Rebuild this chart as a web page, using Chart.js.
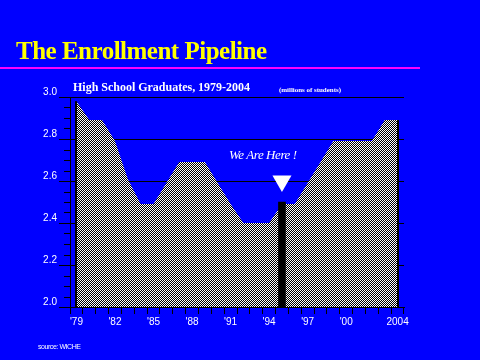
<!DOCTYPE html>
<html>
<head>
<meta charset="utf-8">
<script src="https://cdn.jsdelivr.net/npm/chart.js@4/dist/chart.umd.min.js"></script>
<style>
html,body{margin:0;padding:0;background:#0000ff;}
canvas{display:block;}
</style>
</head>
<body>
<canvas id="c" width="480" height="360"></canvas>
<script>
// ---- data ----
const years = [1979,1980,1981,1982,1983,1984,1985,1986,1987,1988,1989,1990,1991,1992,1993,1994,1995,1996,1997,1998,1999,2000,2001,2002,2003,2004];
const graduates = [2.98,2.89,2.89,2.79,2.61,2.49,2.49,2.59,2.69,2.69,2.69,2.59,2.49,2.40,2.40,2.40,2.49,2.49,2.59,2.69,2.79,2.79,2.79,2.79,2.89,2.89];
const xTickLabels = ["'79","","","'82","","","'85","","","'88","","","'91","","","'94","","","'97","","","'00","","","","2004"];
const hereYear = 1995;
const hereBarValue = 2.50;
const hereMarkerValue = 2.60;
const titleText = "The Enrollment Pipeline";
const subtitleText = "High School Graduates, 1979-2004";
const unitsText = "(millions of students)";
const noteText = "We Are Here !";
const sourceText = "source: WICHE";

// ---- pattern fill (1px checker) ----
const pc = document.createElement('canvas');
pc.width = 2; pc.height = 2;
const pctx = pc.getContext('2d');
pctx.fillStyle = '#000'; pctx.fillRect(0,0,2,2);
pctx.fillStyle = '#fff'; pctx.fillRect(0,0,1,1); pctx.fillRect(1,1,1,1);
const ctx0 = document.getElementById('c').getContext('2d');
const checker = ctx0.createPattern(pc, 'repeat');

const barData = years.map(y => y === hereYear ? hereBarValue : null);
const markerData = years.map(y => y === hereYear ? hereMarkerValue : null);

function isMajor(v){ return Math.abs(v*5 - Math.round(v*5)) < 1e-6; }

function fitText(ctx, text, x, y, target){
  ctx.letterSpacing = '0px';
  const w = ctx.measureText(text).width;
  const n = text.length;
  if (n > 1) ctx.letterSpacing = ((target - w) / (n - 1)).toFixed(2) + 'px';
  ctx.fillText(text, x, y);
  ctx.letterSpacing = '0px';
}

const decor = {
  id: 'decor',
  beforeDraw(chart){
    const c = chart.ctx;
    c.save();
    c.fillStyle = '#0000ff';
    c.fillRect(0,0,chart.width,chart.height);
    c.restore();
  },
  afterDatasetsDraw(chart){
    const c = chart.ctx;
    const xs = chart.scales.x, ys = chart.scales.y;
    const bottom = ys.getPixelForValue(2.0);
    c.save();
    c.fillStyle = '#000';
    // side edges of the filled area
    const first = 0, last = graduates.length - 1;
    const x0 = xs.getPixelForValue(first), y0 = ys.getPixelForValue(graduates[first]);
    const x1 = xs.getPixelForValue(last), y1 = ys.getPixelForValue(graduates[last]);
    c.fillRect(Math.round(x0)-1, y0, 2, bottom - y0);
    c.fillRect(Math.round(x1)-1, y1, 2, bottom - y1);
    // minor y ticks
    c.strokeStyle = '#000'; c.lineWidth = 1;
    ys.ticks.forEach(t => {
      if (!isMajor(t.value)) {
        const py = Math.round(ys.getPixelForValue(t.value)) + 0.5;
        c.beginPath(); c.moveTo(xs.left - 6, py); c.lineTo(xs.left, py); c.stroke();
      }
    });
    c.restore();
  },
  afterDraw(chart){
    const c = chart.ctx;
    const xs = chart.scales.x, ys = chart.scales.y;
    c.save();
    c.textBaseline = 'alphabetic';
    c.textAlign = 'left';
    c.fillStyle = '#ffff00';
    c.font = "bold 25px 'Liberation Serif'";
    fitText(c, titleText, 16, 59, 251);
    c.fillStyle = '#ff00ff';
    c.fillRect(0, 67, 420, 2);
    c.fillStyle = '#ffffff';
    c.font = "bold 12px 'Liberation Serif'";
    fitText(c, subtitleText, 73, 91, 177);
    c.font = "bold 7px 'Liberation Serif'";
    fitText(c, unitsText, 279, 91.5, 62);
    c.font = "italic 13px 'Liberation Serif'";
    fitText(c, noteText, 229, 159, 68);
    c.font = "7px 'Liberation Sans'";
    fitText(c, sourceText, 38, 349, 43);
    c.restore();
  }
};

new Chart(document.getElementById('c'), {
  type: 'line',
  data: {
    labels: years,
    datasets: [
      {
        type: 'bar',
        data: barData,
        backgroundColor: '#000000',
        barThickness: 7,
        order: 0
      },
      {
        type: 'line',
        data: markerData,
        showLine: false,
        pointStyle: 'triangle',
        rotation: 180,
        pointRadius: 11,
        pointBackgroundColor: '#ffffff',
        pointBorderWidth: 0,
        pointBorderColor: '#ffffff',
        order: 0
      },
      {
        type: 'line',
        data: graduates,
        borderWidth: 0,
        borderColor: 'rgba(0,0,0,0)',
        backgroundColor: checker,
        fill: 'start',
        pointRadius: 0,
        tension: 0,
        order: 1
      }
    ]
  },
  options: {
    responsive: false,
    animation: false,
    events: [],
    layout: { padding: { top: 97, right: 76, left: 0, bottom: 0 } },
    plugins: { legend: { display: false }, tooltip: { enabled: false }, title: { display: false } },
    scales: {
      x: {
        type: 'category',
        offset: true,
        grid: { offset: true, drawOnChartArea: false, color: '#000', tickLength: 7, lineWidth: 1 },
        border: { color: '#000', width: 1 },
        ticks: {
          autoSkip: false, maxRotation: 0, minRotation: 0,
          color: '#ffffff', padding: 2,
          font: { family: "'Liberation Sans'", size: 10 },
          callback: (v, i) => xTickLabels[i]
        },
        afterFit: s => { s.height = 53; }
      },
      y: {
        min: 2.0, max: 3.0,
        grid: {
          color: c => isMajor(c.tick.value) ? '#000' : 'rgba(0,0,0,0)',
          tickColor: c => isMajor(c.tick.value) ? '#000' : 'rgba(0,0,0,0)',
          tickLength: 11, lineWidth: 1
        },
        border: { color: '#000', width: 1 },
        ticks: {
          stepSize: 0.05,
          autoSkip: false,
          color: '#ffffff', padding: 2, labelOffset: -5,
          font: { family: "'Liberation Sans'", size: 10 },
          callback: v => isMajor(v) ? Number(v).toFixed(1) : ''
        },
        afterFit: s => { s.width = 70; }
      }
    }
  },
  plugins: [decor]
});
</script>
</body>
</html>
